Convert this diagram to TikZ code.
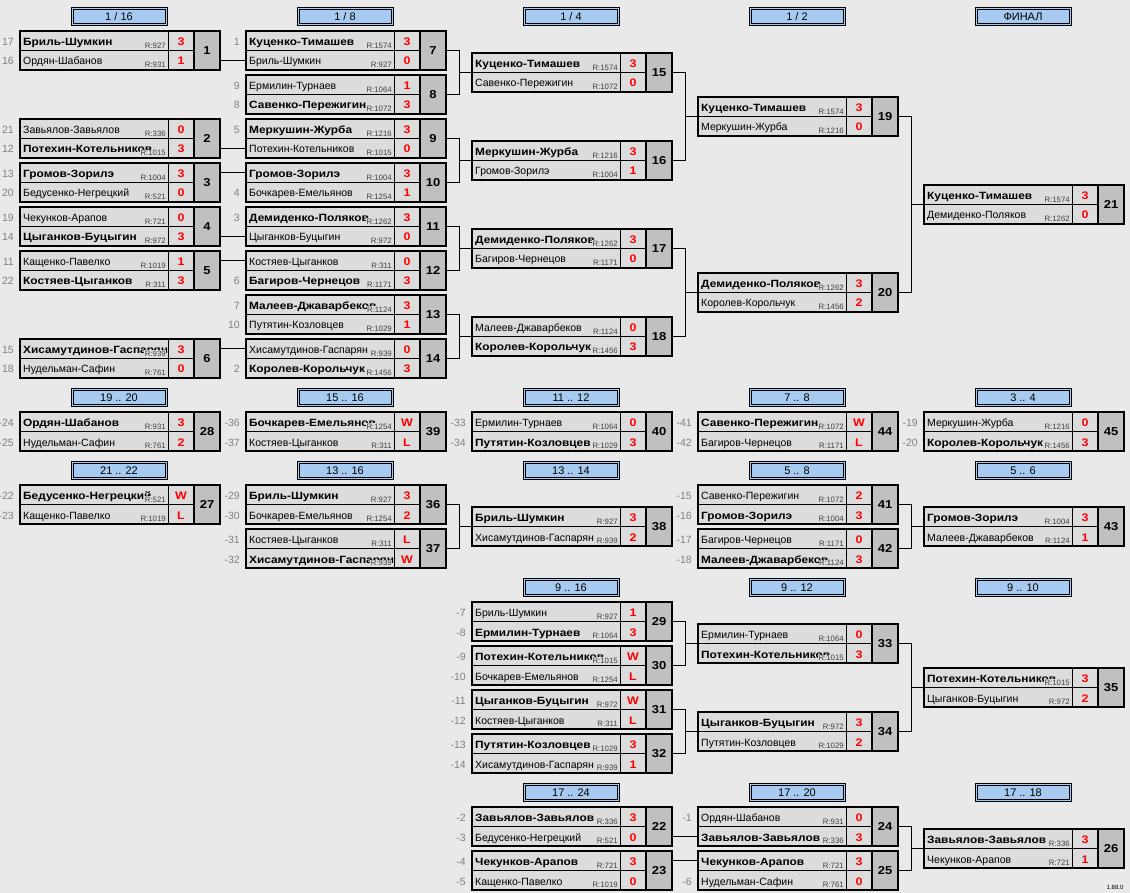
\documentclass[tikz,border=0pt]{standalone}
\usepackage{fontspec}
\setmainfont{Liberation Sans}[BoldFeatures={FakeStretch=1.13}]
\usetikzlibrary{calc}
\definecolor{bgc}{HTML}{E9E9E9}
\definecolor{cellc}{HTML}{DCDCDC}
\definecolor{numc}{HTML}{C0C0C0}
\definecolor{hdrc}{HTML}{A6CAF0}
\definecolor{seedc}{HTML}{808080}
\definecolor{ratc}{HTML}{404040}
\tikzset{
  lose/.style={font=\fontsize{10.5}{12}\selectfont, inner sep=0pt, anchor=base west},
  win/.style={font=\fontsize{10.5}{12}\selectfont\bfseries, inner sep=0pt, anchor=base west},
  rat/.style={font=\fontsize{7.8}{8}\selectfont, text=ratc, fill=cellc, inner sep=0.6pt, anchor=south east},
  sc/.style={font=\fontsize{11}{12}\selectfont\bfseries, text=red, inner sep=0pt, anchor=base},
  seedl/.style={font=\fontsize{10.5}{12}\selectfont, text=seedc, inner sep=0pt, anchor=base east},
  numl/.style={font=\fontsize{11.5}{12}\selectfont\bfseries, inner sep=0pt},
  frame/.style={draw, line width=2pt, minimum width=200pt, minimum height=39pt, inner sep=0pt, outer sep=0pt, anchor=north west},
  hdrbox/.style={draw, line width=1pt, double=hdrc, double distance=1pt, fill=hdrc, minimum width=94pt, minimum height=16pt, inner sep=0pt, font=\fontsize{11}{12}\selectfont},
  conn/.style={line width=1pt},
}
\newcommand\mtc[4]{%
  \fill[cellc] (#2,#3) rectangle (#2+174,#3+39);
  \fill[numc] (#2+174,#3) rectangle (#2+200,#3+39);
  \draw[line width=1pt] (#2,#3+19.5) -- (#2+174,#3+19.5);
  \draw[line width=1pt] (#2+148,#3) -- (#2+148,#3+39);
  \node[frame] (m#1) at (#2,#3) {};
  \draw[line width=2pt] (#2+174,#3) -- (#2+174,#3+39);
  \node[numl] (m#1n) at (#2+187,#3+19.5) {#4};
  \coordinate (m#1-o) at (#2+200,#3+19.5);
  \coordinate (m#1-o1) at (#2+200,#3+9.75);
  \coordinate (m#1-o2) at (#2+200,#3+29.25);
  \coordinate (m#1-i) at (#2,#3+19.5);
  \coordinate (m#1-i1) at (#2,#3+9.75);
  \coordinate (m#1-i2) at (#2,#3+29.25);
}
\newcommand\plr[7]{%
  \begin{scope}
    \clip ($(m#1.north west)+(0,{(#2-1)*19.5})$) rectangle ++(147.5,19.5);
    \node[#7] (m#1p#2) at ($(m#1.north west)+(3,{14.5+(#2-1)*19.5})$) {#4};
  \end{scope}
  \node[rat] (m#1r#2) at ($(m#1.north west)+(146.5,{18+(#2-1)*19.5})$) {R:#5};
  \node[sc] (m#1s#2) at ($(m#1.north west)+(161,{14.5+(#2-1)*19.5})$) {#6};
  \node[seedl] (m#1d#2) at ($(m#1.north west)+(-6,{14.5+(#2-1)*19.5})$) {#3};
}
\newcommand\hdr[4]{\node[hdrbox] (#1) at (#2+99,#3+9.5) {#4};}
\newcommand\fork[3]{\draw[conn] (#1-o) -- ++(13,0) |- (#2-o); \draw[conn] (#3-i) -- ++(-13,0);}
\begin{document}
\begin{tikzpicture}[x=1pt,y=-1pt]
\fill[bgc] (0,0) rectangle (1130,893);
\useasboundingbox (0,0) rectangle (1130,893);
% headers
\hdr{h1}{20}{7}{1 / 16}
\hdr{h2}{246}{7}{1 / 8}
\hdr{h3}{472}{7}{1 / 4}
\hdr{h4}{698}{7}{1 / 2}
\hdr{h5}{924}{7}{ФИНАЛ}
\hdr{h6}{20}{388}{19 .. 20}
\hdr{h7}{246}{388}{15 .. 16}
\hdr{h8}{472}{388}{11 .. 12}
\hdr{h9}{698}{388}{7 .. 8}
\hdr{h10}{924}{388}{3 .. 4}
\hdr{h11}{20}{461}{21 .. 22}
\hdr{h12}{246}{461}{13 .. 16}
\hdr{h13}{472}{461}{13 .. 14}
\hdr{h14}{698}{461}{5 .. 8}
\hdr{h15}{924}{461}{5 .. 6}
\hdr{h16}{472}{578}{9 .. 16}
\hdr{h17}{698}{578}{9 .. 12}
\hdr{h18}{924}{578}{9 .. 10}
\hdr{h19}{472}{783}{17 .. 24}
\hdr{h20}{698}{783}{17 .. 20}
\hdr{h21}{924}{783}{17 .. 18}
% matches
\mtc{1}{20}{31}{1}
\plr{1}{1}{17}{Бриль-Шумкин}{927}{3}{win}
\plr{1}{2}{16}{Ордян-Шабанов}{931}{1}{lose}
\mtc{2}{20}{119}{2}
\plr{2}{1}{21}{Завьялов-Завьялов}{336}{0}{lose}
\plr{2}{2}{12}{Потехин-Котельников}{1015}{3}{win}
\mtc{3}{20}{163}{3}
\plr{3}{1}{13}{Громов-Зорилэ}{1004}{3}{win}
\plr{3}{2}{20}{Бедусенко-Негрецкий}{521}{0}{lose}
\mtc{4}{20}{207}{4}
\plr{4}{1}{19}{Чекунков-Арапов}{721}{0}{lose}
\plr{4}{2}{14}{Цыганков-Буцыгин}{972}{3}{win}
\mtc{5}{20}{251}{5}
\plr{5}{1}{11}{Кащенко-Павелко}{1019}{1}{lose}
\plr{5}{2}{22}{Костяев-Цыганков}{311}{3}{win}
\mtc{6}{20}{339}{6}
\plr{6}{1}{15}{Хисамутдинов-Гаспарян}{939}{3}{win}
\plr{6}{2}{18}{Нудельман-Сафин}{761}{0}{lose}
\mtc{7}{246}{31}{7}
\plr{7}{1}{1}{Куценко-Тимашев}{1574}{3}{win}
\plr{7}{2}{}{Бриль-Шумкин}{927}{0}{lose}
\mtc{8}{246}{75}{8}
\plr{8}{1}{9}{Ермилин-Турнаев}{1064}{1}{lose}
\plr{8}{2}{8}{Савенко-Пережигин}{1072}{3}{win}
\mtc{9}{246}{119}{9}
\plr{9}{1}{5}{Меркушин-Журба}{1216}{3}{win}
\plr{9}{2}{}{Потехин-Котельников}{1015}{0}{lose}
\mtc{10}{246}{163}{10}
\plr{10}{1}{}{Громов-Зорилэ}{1004}{3}{win}
\plr{10}{2}{4}{Бочкарев-Емельянов}{1254}{1}{lose}
\mtc{11}{246}{207}{11}
\plr{11}{1}{3}{Демиденко-Поляков}{1262}{3}{win}
\plr{11}{2}{}{Цыганков-Буцыгин}{972}{0}{lose}
\mtc{12}{246}{251}{12}
\plr{12}{1}{}{Костяев-Цыганков}{311}{0}{lose}
\plr{12}{2}{6}{Багиров-Чернецов}{1171}{3}{win}
\mtc{13}{246}{295}{13}
\plr{13}{1}{7}{Малеев-Джаварбеков}{1124}{3}{win}
\plr{13}{2}{10}{Путятин-Козловцев}{1029}{1}{lose}
\mtc{14}{246}{339}{14}
\plr{14}{1}{}{Хисамутдинов-Гаспарян}{939}{0}{lose}
\plr{14}{2}{2}{Королев-Корольчук}{1456}{3}{win}
\mtc{15}{472}{53}{15}
\plr{15}{1}{}{Куценко-Тимашев}{1574}{3}{win}
\plr{15}{2}{}{Савенко-Пережигин}{1072}{0}{lose}
\mtc{16}{472}{141}{16}
\plr{16}{1}{}{Меркушин-Журба}{1216}{3}{win}
\plr{16}{2}{}{Громов-Зорилэ}{1004}{1}{lose}
\mtc{17}{472}{229}{17}
\plr{17}{1}{}{Демиденко-Поляков}{1262}{3}{win}
\plr{17}{2}{}{Багиров-Чернецов}{1171}{0}{lose}
\mtc{18}{472}{317}{18}
\plr{18}{1}{}{Малеев-Джаварбеков}{1124}{0}{lose}
\plr{18}{2}{}{Королев-Корольчук}{1456}{3}{win}
\mtc{19}{698}{97}{19}
\plr{19}{1}{}{Куценко-Тимашев}{1574}{3}{win}
\plr{19}{2}{}{Меркушин-Журба}{1216}{0}{lose}
\mtc{20}{698}{273}{20}
\plr{20}{1}{}{Демиденко-Поляков}{1262}{3}{win}
\plr{20}{2}{}{Королев-Корольчук}{1456}{2}{lose}
\mtc{21}{924}{185}{21}
\plr{21}{1}{}{Куценко-Тимашев}{1574}{3}{win}
\plr{21}{2}{}{Демиденко-Поляков}{1262}{0}{lose}
% lower section
\mtc{28}{20}{412}{28}
\plr{28}{1}{-24}{Ордян-Шабанов}{931}{3}{win}
\plr{28}{2}{-25}{Нудельман-Сафин}{761}{2}{lose}
\mtc{27}{20}{485}{27}
\plr{27}{1}{-22}{Бедусенко-Негрецкий}{521}{W}{win}
\plr{27}{2}{-23}{Кащенко-Павелко}{1019}{L}{lose}
\mtc{39}{246}{412}{39}
\plr{39}{1}{-36}{Бочкарев-Емельянов}{1254}{W}{win}
\plr{39}{2}{-37}{Костяев-Цыганков}{311}{L}{lose}
\mtc{36}{246}{485}{36}
\plr{36}{1}{-29}{Бриль-Шумкин}{927}{3}{win}
\plr{36}{2}{-30}{Бочкарев-Емельянов}{1254}{2}{lose}
\mtc{37}{246}{529}{37}
\plr{37}{1}{-31}{Костяев-Цыганков}{311}{L}{lose}
\plr{37}{2}{-32}{Хисамутдинов-Гаспарян}{939}{W}{win}
\mtc{40}{472}{412}{40}
\plr{40}{1}{-33}{Ермилин-Турнаев}{1064}{0}{lose}
\plr{40}{2}{-34}{Путятин-Козловцев}{1029}{3}{win}
\mtc{38}{472}{507}{38}
\plr{38}{1}{}{Бриль-Шумкин}{927}{3}{win}
\plr{38}{2}{}{Хисамутдинов-Гаспарян}{939}{2}{lose}
\mtc{29}{472}{602}{29}
\plr{29}{1}{-7}{Бриль-Шумкин}{927}{1}{lose}
\plr{29}{2}{-8}{Ермилин-Турнаев}{1064}{3}{win}
\mtc{30}{472}{646}{30}
\plr{30}{1}{-9}{Потехин-Котельников}{1015}{W}{win}
\plr{30}{2}{-10}{Бочкарев-Емельянов}{1254}{L}{lose}
\mtc{31}{472}{690}{31}
\plr{31}{1}{-11}{Цыганков-Буцыгин}{972}{W}{win}
\plr{31}{2}{-12}{Костяев-Цыганков}{311}{L}{lose}
\mtc{32}{472}{734}{32}
\plr{32}{1}{-13}{Путятин-Козловцев}{1029}{3}{win}
\plr{32}{2}{-14}{Хисамутдинов-Гаспарян}{939}{1}{lose}
\mtc{22}{472}{807}{22}
\plr{22}{1}{-2}{Завьялов-Завьялов}{336}{3}{win}
\plr{22}{2}{-3}{Бедусенко-Негрецкий}{521}{0}{lose}
\mtc{23}{472}{851}{23}
\plr{23}{1}{-4}{Чекунков-Арапов}{721}{3}{win}
\plr{23}{2}{-5}{Кащенко-Павелко}{1019}{0}{lose}
\mtc{44}{698}{412}{44}
\plr{44}{1}{-41}{Савенко-Пережигин}{1072}{W}{win}
\plr{44}{2}{-42}{Багиров-Чернецов}{1171}{L}{lose}
\mtc{41}{698}{485}{41}
\plr{41}{1}{-15}{Савенко-Пережигин}{1072}{2}{lose}
\plr{41}{2}{-16}{Громов-Зорилэ}{1004}{3}{win}
\mtc{42}{698}{529}{42}
\plr{42}{1}{-17}{Багиров-Чернецов}{1171}{0}{lose}
\plr{42}{2}{-18}{Малеев-Джаварбеков}{1124}{3}{win}
\mtc{33}{698}{624}{33}
\plr{33}{1}{}{Ермилин-Турнаев}{1064}{0}{lose}
\plr{33}{2}{}{Потехин-Котельников}{1015}{3}{win}
\mtc{34}{698}{712}{34}
\plr{34}{1}{}{Цыганков-Буцыгин}{972}{3}{win}
\plr{34}{2}{}{Путятин-Козловцев}{1029}{2}{lose}
\mtc{24}{698}{807}{24}
\plr{24}{1}{-1}{Ордян-Шабанов}{931}{0}{lose}
\plr{24}{2}{}{Завьялов-Завьялов}{336}{3}{win}
\mtc{25}{698}{851}{25}
\plr{25}{1}{}{Чекунков-Арапов}{721}{3}{win}
\plr{25}{2}{-6}{Нудельман-Сафин}{761}{0}{lose}
\mtc{45}{924}{412}{45}
\plr{45}{1}{-19}{Меркушин-Журба}{1216}{0}{lose}
\plr{45}{2}{-20}{Королев-Корольчук}{1456}{3}{win}
\mtc{43}{924}{507}{43}
\plr{43}{1}{}{Громов-Зорилэ}{1004}{3}{win}
\plr{43}{2}{}{Малеев-Джаварбеков}{1124}{1}{lose}
\mtc{35}{924}{668}{35}
\plr{35}{1}{}{Потехин-Котельников}{1015}{3}{win}
\plr{35}{2}{}{Цыганков-Буцыгин}{972}{2}{lose}
\mtc{26}{924}{829}{26}
\plr{26}{1}{}{Завьялов-Завьялов}{336}{3}{win}
\plr{26}{2}{}{Чекунков-Арапов}{721}{1}{lose}
% connectors
\draw[conn] (m1-o2) -- (m7-i2);
\draw[conn] (m2-o2) -- (m9-i2);
\draw[conn] (m3-o1) -- (m10-i1);
\draw[conn] (m4-o2) -- (m11-i2);
\draw[conn] (m5-o1) -- (m12-i1);
\draw[conn] (m6-o1) -- (m14-i1);
\fork{m7}{m8}{m15}
\fork{m9}{m10}{m16}
\fork{m11}{m12}{m17}
\fork{m13}{m14}{m18}
\fork{m15}{m16}{m19}
\fork{m17}{m18}{m20}
\fork{m19}{m20}{m21}
\fork{m36}{m37}{m38}
\fork{m41}{m42}{m43}
\fork{m29}{m30}{m33}
\fork{m31}{m32}{m34}
\fork{m33}{m34}{m35}
\fork{m24}{m25}{m26}
\draw[conn] (m22-o2) -- (m24-i2);
\draw[conn] (m23-o1) -- (m25-i1);
\node[font=\fontsize{6}{7}\selectfont, inner sep=0pt] (ver) at (1115,887) {1.88.0};
\end{tikzpicture}
\end{document}
